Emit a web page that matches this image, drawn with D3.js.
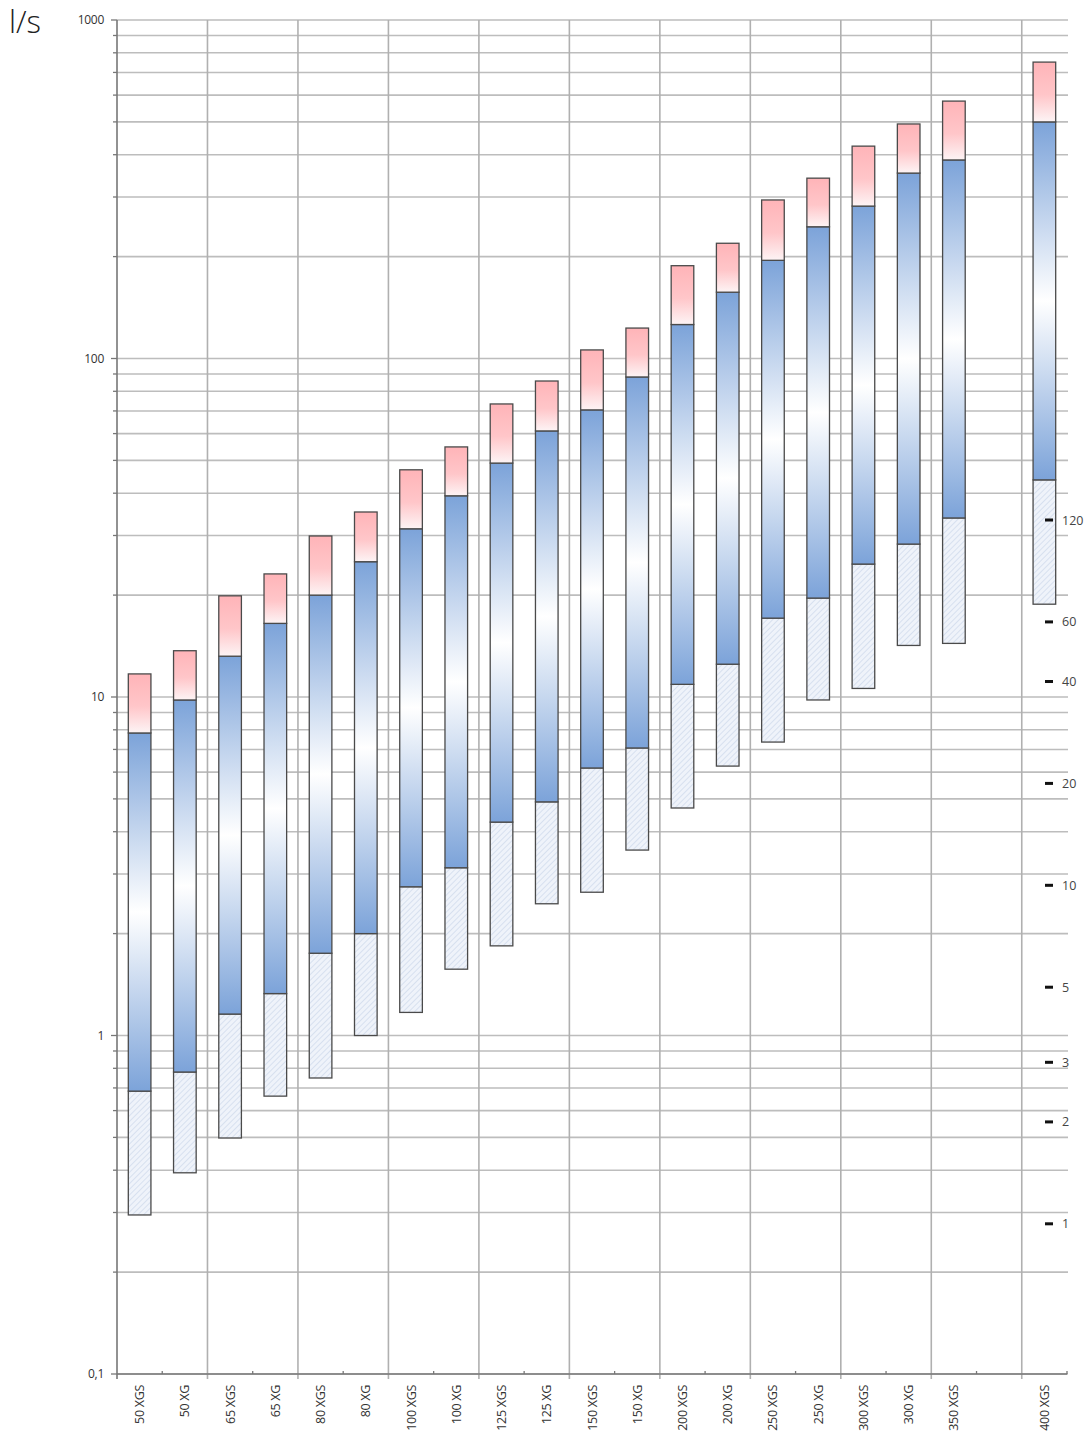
<!DOCTYPE html>
<html>
<head>
<meta charset="utf-8">
<script src="https://cdn.jsdelivr.net/npm/d3@7/dist/d3.min.js"></script>
<style>
  html, body { margin: 0; padding: 0; background: #fff; }
  svg { display: block; }
</style>
</head>
<body>
<svg id="chart" width="1091" height="1435"></svg>
<script>
// ---- data ----
const categories = ["50 XGS","50 XG","65 XGS","65 XG","80 XGS","80 XG","100 XGS","100 XG","125 XGS","125 XG",
  "150 XGS","150 XG","200 XGS","200 XG","250 XGS","250 XG","300 XGS","300 XG","350 XGS","","400 XGS"];
// l/s: minimum of hatched part, start of blue range, end of blue range, maximum (top of red part)
const minFlow   = [0.295,0.393,0.498,0.662,0.749,1.0,1.17,1.57,1.84,2.45,2.65,3.53,4.70,6.25,7.36,9.8,10.6,14.2,14.4,null,18.8];
const lowFlow   = [0.685,0.780,1.157,1.33,1.75,2.0,2.75,3.13,4.27,4.9,6.17,7.07,10.9,12.5,17.1,19.6,24.7,28.3,33.8,null,43.8];
const highFlow  = [7.83,9.8,13.2,16.5,20.0,25.1,31.4,39.3,49.1,61.1,70.5,88.2,126,157,195,245,282,353,386,null,500];
const maxFlow   = [11.7,13.7,19.9,23.1,29.9,35.2,46.9,54.8,73.4,85.8,106,123,188,219,294,341,424,493,576,null,751];
const yTickLabels = [{v:1000,t:"1000"},{v:100,t:"100"},{v:10,t:"10"},{v:1,t:"1"},{v:0.1,t:"0,1"}];
const m3hMarkers = [120,60,40,20,10,5,3,2,1];   // m³/h marks shown at right
const unitLabel = "l/s";

// ---- layout ----
const svg = d3.select("#chart");
const pL = 117, pR = 1067, pT = 20, pB = 1374;
const y = d3.scaleLog().domain([0.1, 1000]).range([pB, pT]);
const x = d3.scaleBand().domain(categories).range([pL, pR]).paddingInner(0.5).paddingOuter(0.25);
const step = x.step();
const boundary = i => pL + i * step;
const font = "'Open Sans', 'Liberation Sans', sans-serif";

// defs
const defs = svg.append("defs");
const gb = defs.append("linearGradient").attr("id","blueGrad").attr("x1",0).attr("y1",0).attr("x2",0).attr("y2",1);
gb.append("stop").attr("offset","0%").attr("stop-color","#7ca3d9");
gb.append("stop").attr("offset","50%").attr("stop-color","#ffffff");
gb.append("stop").attr("offset","100%").attr("stop-color","#7ca3d9");
const gp = defs.append("linearGradient").attr("id","pinkGrad").attr("x1",0).attr("y1",0).attr("x2",0).attr("y2",1);
gp.append("stop").attr("offset","0%").attr("stop-color","#ffb4b8");
gp.append("stop").attr("offset","55%").attr("stop-color","#ffc6c9");
gp.append("stop").attr("offset","100%").attr("stop-color","#fdf4f5");
const pat = defs.append("pattern").attr("id","hatch").attr("patternUnits","userSpaceOnUse")
  .attr("width",4).attr("height",4).attr("patternTransform","rotate(45)");
pat.append("rect").attr("width",4).attr("height",4).attr("fill","#eff3fa");
pat.append("line").attr("x1",0).attr("y1",0).attr("x2",0).attr("y2",4).attr("stroke","#c8d4e8").attr("stroke-width",1.2);

// horizontal grid lines
const gridVals = y.ticks();
svg.append("g").selectAll("line").data(gridVals).join("line")
  .attr("x1", pL).attr("x2", pR + 1)
  .attr("y1", d => y(d)).attr("y2", d => y(d))
  .attr("stroke", "#bdbdbd").attr("stroke-width", 1.6);

// vertical grid lines every two categories
const vIdx = d3.range(0, categories.length, 2).filter(i => i > 0);
svg.append("g").selectAll("line").data(vIdx).join("line")
  .attr("x1", d => boundary(d)).attr("x2", d => boundary(d))
  .attr("y1", pT).attr("y2", pB + 5)
  .attr("stroke", "#b0b0b0").attr("stroke-width", 1.6);

// left axis
svg.append("line").attr("x1", pL).attr("x2", pL).attr("y1", pT).attr("y2", pB + 5)
  .attr("stroke", "#777").attr("stroke-width", 1.6);
svg.append("g").selectAll("line").data(gridVals).join("line")
  .attr("x1", d => yTickLabels.some(t => Math.abs(t.v - d) < 1e-9) ? pL - 6 : pL - 4).attr("x2", pL)
  .attr("y1", d => y(d)).attr("y2", d => y(d))
  .attr("stroke", "#777").attr("stroke-width", 1.3);
svg.append("g").selectAll("text").data(yTickLabels).join("text")
  .attr("x", pL - 13).attr("y", d => y(d.v) + 4)
  .attr("text-anchor", "end").attr("font-family", font).attr("font-size", 12).attr("fill", "#333")
  .attr("letter-spacing", -0.3)
  .text(d => d.t);

// bottom axis
svg.append("line").attr("x1", pL).attr("x2", pR).attr("y1", pB).attr("y2", pB)
  .attr("stroke", "#777").attr("stroke-width", 1.6);
svg.append("g").selectAll("line").data(d3.range(1, categories.length + 1, 2)).join("line")
  .attr("x1", d => boundary(d)).attr("x2", d => boundary(d))
  .attr("y1", pB - 3).attr("y2", pB)
  .attr("stroke", "#777").attr("stroke-width", 1.3);
svg.append("g").selectAll("text").data(categories.filter(c => c !== "")).join("text")
  .attr("transform", d => `translate(${x(d) + x.bandwidth()/2 + 4.5},${pB + 11}) rotate(-90)`)
  .attr("text-anchor", "end").attr("font-family", font).attr("font-size", 12.5).attr("fill", "#333")
  .attr("letter-spacing", -0.3)
  .text(d => d);

// bars
const bars = categories.map((c, i) => ({c, mn: minFlow[i], lo: lowFlow[i], hi: highFlow[i], mx: maxFlow[i]}))
  .filter(d => d.mn != null);
const bw = x.bandwidth();
const g = svg.append("g");
const segs = [
  {a: "lo", b: "mn", fill: "url(#hatch)"},
  {a: "hi", b: "lo", fill: "url(#blueGrad)"},
  {a: "mx", b: "hi", fill: "url(#pinkGrad)"}
];
segs.forEach(s => {
  g.append("g").selectAll("rect").data(bars).join("rect")
    .attr("x", d => x(d.c)).attr("width", bw)
    .attr("y", d => y(d[s.a])).attr("height", d => y(d[s.b]) - y(d[s.a]))
    .attr("fill", s.fill).attr("stroke", "#4a4a4a").attr("stroke-width", 1.3);
});

// right-side m³/h markers (1 m³/h = 1/3.6 l/s)
const mk = svg.append("g");
mk.selectAll("rect").data(m3hMarkers).join("rect")
  .attr("x", 1045).attr("width", 8).attr("y", d => y(d / 3.6) - 1.5).attr("height", 3).attr("fill", "#111");
mk.selectAll("text").data(m3hMarkers).join("text")
  .attr("x", 1062).attr("y", d => y(d / 3.6) + 4.5)
  .attr("font-family", font).attr("font-size", 12.5).attr("fill", "#444")
  .text(d => d);

// unit label
svg.append("text").attr("x", 9).attr("y", 33)
  .attr("font-family", "'Open Sans', sans-serif").attr("font-weight", 300).attr("font-size", 31).attr("fill", "#222")
  .text(unitLabel);
</script>
</body>
</html>
